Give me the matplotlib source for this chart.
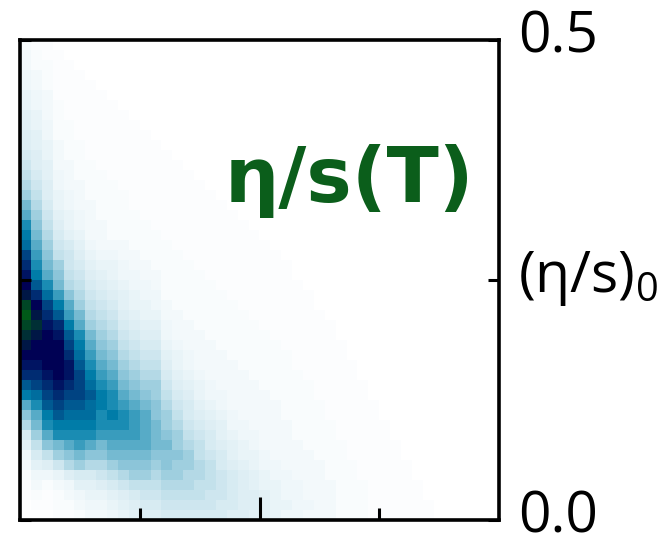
import numpy as np
import matplotlib
matplotlib.use("Agg")
import matplotlib.pyplot as plt
import matplotlib.transforms as mtransforms

# --- data -------------------------------------------------------------
# Posterior density of eta/s(T): one string per temperature bin (column),
# read top (eta/s = 0.5) to bottom (eta/s = 0). Each char is a density level.
LEVEL_CODES = "0123456789abcdefghijklmnopqrs"
LEVEL_COUNTS = [0, 0.5, 1.0, 1.6, 2.2, 2.9, 3.6, 4.4, 5.4, 6.6,
                8, 10, 12.5, 15, 18, 22, 26, 30, 34, 38,
                43, 49, 55, 61, 67, 73, 79, 85, 90]

COLUMNS = [
    "2334455667" "789abcefhi" "jlmnoprsrq" "ponmkifdb8" "64321100",
    "1223344556" "67789abcde" "fghikmopqp" "oonmljhfec" "a8643210",
    "1122233344" "55667789ab" "cdefhjlmno" "ooonmlkihf" "da742110",
    "0111112222" "3334455678" "9acdegikmn" "oooonmlkih" "ec953221",
    "0011111122" "2233344556" "899abdfgik" "lmnnmlkjih" "fdb74321",
    "0001111111" "2222333445" "6789abcefh" "ijklllkjih" "gec86432",
    "0000111111" "1122223333" "456789abce" "fghijkjjih" "fdb86543",
    "0000011111" "1112222233" "3456789abc" "defghiihhg" "edb97543",
    "0000001111" "1111222222" "34556789ab" "cdefghhihg" "feca8654",
    "0000000111" "1111122222" "3344566789" "abcdefghhg" "fedb9765",
    "0000000011" "1111111222" "2334455678" "9abcdefggg" "fedca876",
    "0000000001" "1111111122" "2233445567" "89abcdefff" "fedca987",
    "0000000000" "1111111112" "2223344567" "89abccddee" "edcba987",
    "0000000000" "0111111111" "2222223344" "56789abccd" "eddcba98",
    "0000000000" "0011111111" "1222222333" "4556789abc" "cdccba98",
    "0000000000" "0001111111" "1122222233" "344567889a" "bccbba98",
    "0000000000" "0000111111" "1112222223" "3334556789" "aabbaa98",
    "0000000000" "0000011111" "1111222222" "3333445678" "89aaa998",
    "0000000000" "0000001111" "1111122222" "2333344566" "78899988",
    "0000000000" "0000000111" "1111112222" "2233333445" "66788887",
    "0000000000" "0000000011" "1111111222" "2223333344" "55677777",
    "0000000000" "0000000001" "1111111122" "2222333334" "45566776",
    "0000000000" "0000000000" "1111111112" "2222233333" "34455666",
    "0000000000" "0000000000" "0111111111" "2222223333" "33445555",
    "0000000000" "0000000000" "0011111111" "1222222233" "33344454",
    "0000000000" "0000000000" "0000111111" "1112222222" "33334444",
    "0000000000" "0000000000" "0000011111" "1111222222" "23333343",
    "0000000000" "0000000000" "0000000111" "1111112222" "22333333",
    "0000000000" "0000000000" "0000000011" "1111111122" "22223333",
    "0000000000" "0000000000" "0000000000" "1111111111" "22222222",
    "0000000000" "0000000000" "0000000000" "0011111111" "11222222",
    "0000000000" "0000000000" "0000000000" "0000111111" "11112222",
    "0000000000" "0000000000" "0000000000" "0000001111" "11111111",
    "0000000000" "0000000000" "0000000000" "0000000011" "11111111",
    "0000000000" "0000000000" "0000000000" "0000000000" "11111111",
    "0000000000" "0000000000" "0000000000" "0000000000" "00111111",
    "0000000000" "0000000000" "0000000000" "0000000000" "00001111",
    "0000000000" "0000000000" "0000000000" "0000000000" "00000011",
    "0000000000" "0000000000" "0000000000" "0000000000" "00000000",
    "0000000000" "0000000000" "0000000000" "0000000000" "00000000",
    "0000000000" "0000000000" "0000000000" "0000000000" "00000000",
    "0000000000" "0000000000" "0000000000" "0000000000" "00000000",
    "0000000000" "0000000000" "0000000000" "0000000000" "00000000",
    "0000000000" "0000000000" "0000000000" "0000000000" "00000000",
]

Y_TICKS = [0.0, 0.25, 0.5]
Y_TICK_LABELS = ["0.0", "(η/s)$_{\\mathregular{0}}$", "0.5"]
X_MAJOR = [0.5]
X_MINOR = [0.25, 0.75]
TITLE = "η/s(T)"

# --- build grid -------------------------------------------------------
lut = dict(zip(LEVEL_CODES, LEVEL_COUNTS))
grid = np.array([[lut[ch] for ch in col] for col in COLUMNS], dtype=float).T  # rows x cols

plt.rcParams['font.family'] = ['Open Sans', 'DejaVu Sans']
plt.rcParams['mathtext.fontset'] = 'custom'
plt.rcParams['mathtext.rm'] = 'Open Sans'

fig = plt.figure(figsize=(6.65, 5.38), dpi=100)
W, H = 665, 538
ax = fig.add_axes([20 / W, (H - 520) / H, 479 / W, 480 / H])

ax.imshow(grid, cmap='ocean_r', vmin=0, vmax=100, origin='upper',
          extent=[0, 1, 0, 0.5], aspect='auto', interpolation='nearest')
ax.set_xlim(0, 1)
ax.set_ylim(0, 0.5)

for s in ax.spines.values():
    s.set_linewidth(2.6)
    s.set_color('black')

ax.set_xticks(X_MAJOR)
ax.set_xticks(X_MINOR, minor=True)
ax.set_xticklabels([])
ax.tick_params(axis='x', which='major', direction='in', length=16.5, width=2.2,
               top=False, bottom=True, labelbottom=False)
ax.tick_params(axis='x', which='minor', direction='in', length=8.5, width=2.2,
               top=False, bottom=True)

ax.set_yticks(Y_TICKS)
ax.set_yticklabels(Y_TICK_LABELS)
ax.tick_params(axis='y', which='major', direction='in', length=8, width=2.2,
               left=True, right=True, labelleft=False, labelright=True,
               labelsize=41, pad=14)
offset = mtransforms.ScaledTranslation(0, 0.09, fig.dpi_scale_trans)
for lbl in ax.get_yticklabels():
    lbl.set_transform(lbl.get_transform() + offset)

fig.text(225 / W, (H - 202) / H, TITLE, color='#0b5e1b', fontsize=55,
         fontweight='bold', family=['DejaVu Sans'],
         ha='left', va='baseline')

fig.savefig('out.png', dpi=100)
